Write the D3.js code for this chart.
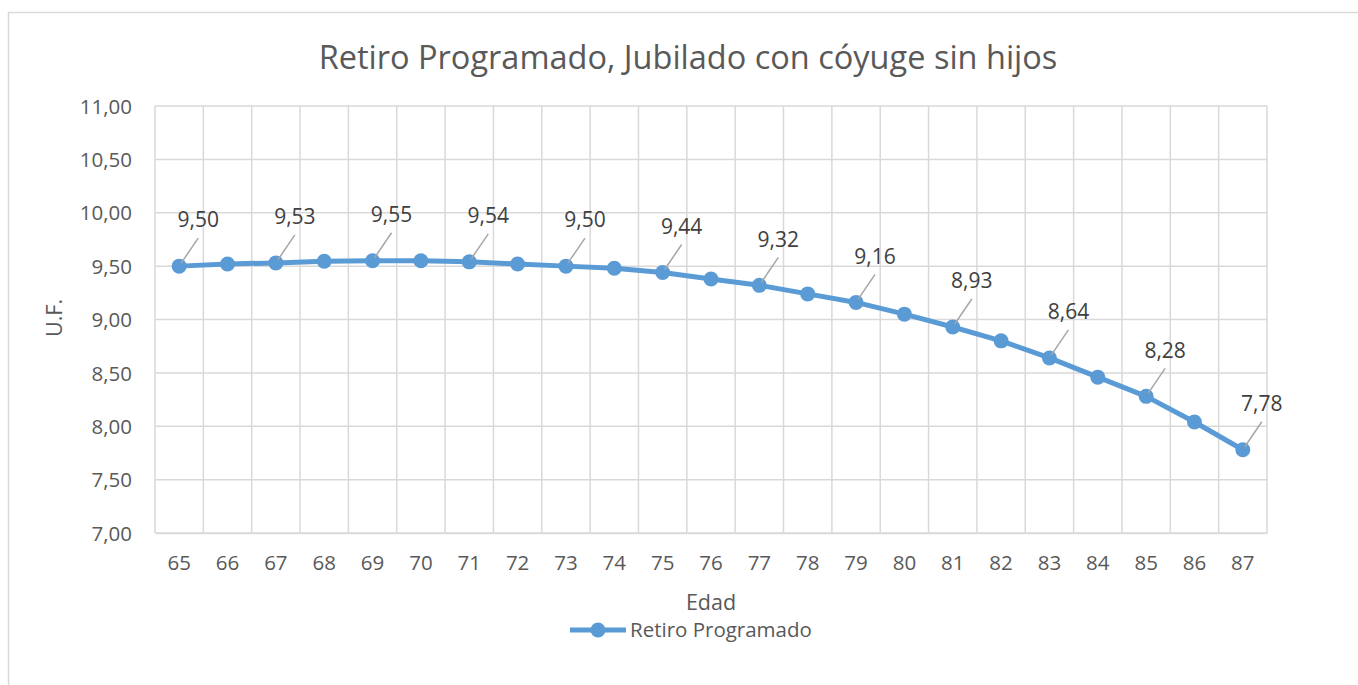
<!DOCTYPE html>
<html>
<head>
<meta charset="utf-8">
<script src="https://cdn.jsdelivr.net/npm/d3@7"></script>
<style>
  body { margin: 0; background: #fff; }
  text { font-family: "Open Sans", sans-serif; fill: #595959; }
</style>
</head>
<body>
<svg id="chart" width="1358" height="685"></svg>
<script>
// edades (eje x)
var edades = [65, 66, 67, 68, 69, 70, 71, 72, 73, 74, 75, 76, 77, 78, 79, 80, 81, 82, 83, 84, 85, 86, 87];
// pension en U.F.
var retiro = [9.50, 9.52, 9.53, 9.545, 9.55, 9.55, 9.54, 9.52, 9.50, 9.48, 9.44, 9.38, 9.32, 9.24, 9.16, 9.05, 8.93, 8.80, 8.64, 8.46, 8.28, 8.04, 7.78];
// solo cada dos edades lleva etiqueta
var conEtiqueta = [65, 67, 69, 71, 73, 75, 77, 79, 81, 83, 85, 87];
var yTicks = [7, 7.5, 8, 8.5, 9, 9.5, 10, 10.5, 11];

var svg = d3.select("#chart");
var margin = { left: 155, top: 106, right: 1267, bottom: 533 };
var fmt = function (v) { return d3.format(".2f")(v).replace(".", ","); };

// marco del grafico
svg.append("rect")
    .attr("x", 8.5).attr("y", 12.5)
    .attr("width", 1400).attr("height", 700)
    .attr("fill", "#fff").attr("stroke", "#d9d9d9").attr("stroke-width", 1.5);

var x = d3.scaleBand().domain(edades).range([margin.left, margin.right]);
var y = d3.scaleLinear().domain([7, 11]).range([margin.bottom, margin.top]);

// grilla horizontal
svg.append("g").selectAll("line").data(yTicks).enter().append("line")
    .attr("x1", margin.left).attr("x2", margin.right)
    .attr("y1", function (d) { return y(d); }).attr("y2", function (d) { return y(d); })
    .attr("stroke", "#d9d9d9").attr("stroke-width", 1.5);

// grilla vertical (bordes de categoria)
var bordes = edades.map(function (d) { return x(d); }).concat([margin.right]);
svg.append("g").selectAll("line").data(bordes).enter().append("line")
    .attr("x1", function (d) { return d; }).attr("x2", function (d) { return d; })
    .attr("y1", margin.top).attr("y2", margin.bottom)
    .attr("stroke", "#d9d9d9").attr("stroke-width", 1.5);

// eje y
var yAxis = d3.axisLeft(y).tickValues(yTicks).tickFormat(fmt).tickSize(0).tickPadding(23);
var gy = svg.append("g").attr("transform", "translate(" + margin.left + ",0)").call(yAxis);
gy.select(".domain").remove();
gy.selectAll("text").attr("font-size", 20.5).attr("dy", "0.35em")
    .style("font-family", "Open Sans").attr("fill", "#595959");

// eje x
var xAxis = d3.axisBottom(x).tickSize(0).tickPadding(22);
var gx = svg.append("g").attr("transform", "translate(0," + margin.bottom + ")").call(xAxis);
gx.select(".domain").attr("stroke", "#d9d9d9").attr("stroke-width", 1.5);
gx.selectAll("text").attr("font-size", 20.5)
    .style("font-family", "Open Sans").attr("fill", "#595959");

// titulo y rotulos
svg.append("text").attr("x", 688).attr("y", 69).attr("text-anchor", "middle")
    .attr("font-size", 32.5).text("Retiro Programado, Jubilado con cóyuge sin hijos");
svg.append("text").attr("x", 711).attr("y", 610).attr("text-anchor", "middle")
    .attr("font-size", 21.5).text("Edad");
svg.append("text").attr("transform", "translate(62,318) rotate(-90)").attr("text-anchor", "middle")
    .attr("font-size", 21.5).text("U.F.");

// serie
var cx = function (i) { return x(edades[i]) + x.bandwidth() / 2; };
var line = d3.line().x(function (d, i) { return cx(i); }).y(function (d) { return y(d); });
svg.append("path").datum(retiro).attr("d", line)
    .attr("fill", "none").attr("stroke", "#5b9bd5").attr("stroke-width", 5)
    .attr("stroke-linejoin", "round");
svg.append("g").selectAll("circle").data(retiro).enter().append("circle")
    .attr("cx", function (d, i) { return cx(i); }).attr("cy", function (d) { return y(d); })
    .attr("r", 7.5).attr("fill", "#5b9bd5");

// etiquetas con lineas guia
var idx = conEtiqueta.map(function (e) { return edades.indexOf(e); });
var etq = svg.append("g");
idx.forEach(function (i) {
    var px = cx(i), py = y(retiro[i]);
    var lx = px + 19, ly = py - 46;
    etq.append("line")
        .attr("x1", px + 2).attr("y1", py - 3)
        .attr("x2", lx).attr("y2", ly + 18)
        .attr("stroke", "#a6a6a6").attr("stroke-width", 1.5);
    etq.append("text").attr("x", lx).attr("y", ly).attr("dy", "0.35em")
        .attr("text-anchor", "middle").attr("font-size", 21)
        .style("fill", "#404040").text(fmt(retiro[i]));
});

// leyenda
var lg = svg.append("g").attr("transform", "translate(570,630)");
lg.append("line").attr("x1", 0).attr("x2", 56).attr("y1", 0).attr("y2", 0)
    .attr("stroke", "#5b9bd5").attr("stroke-width", 5);
lg.append("circle").attr("cx", 28).attr("cy", 0).attr("r", 7.5).attr("fill", "#5b9bd5");
lg.append("text").attr("x", 60).attr("y", 0).attr("dy", "0.35em")
    .attr("font-size", 20.5).text("Retiro Programado");
</script>
</body>
</html>
